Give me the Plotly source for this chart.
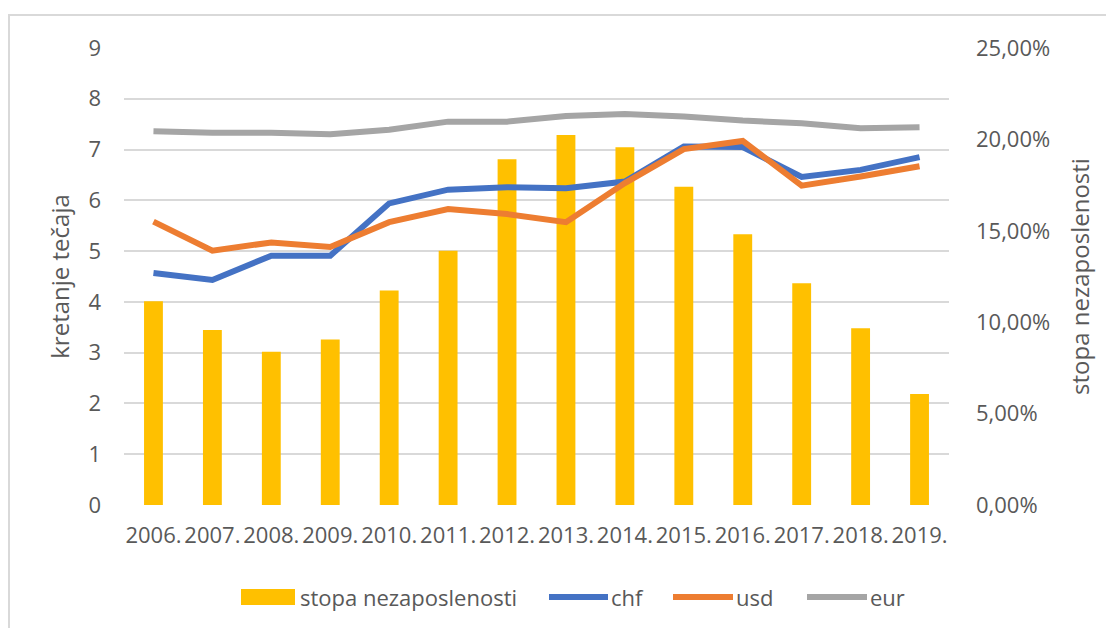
import plotly.graph_objects as go

# --- data ---
years = ["2006.", "2007.", "2008.", "2009.", "2010.", "2011.", "2012.",
         "2013.", "2014.", "2015.", "2016.", "2017.", "2018.", "2019."]
stopa = [0.1114, 0.0957, 0.0839, 0.0906, 0.1174, 0.1391, 0.1891,
         0.2024, 0.1957, 0.1741, 0.1481, 0.1213, 0.0967, 0.0607]
chf = [4.57, 4.43, 4.91, 4.91, 5.94, 6.21, 6.26, 6.24, 6.37, 7.06, 7.05, 6.46, 6.60, 6.85]
usd = [5.58, 5.01, 5.17, 5.08, 5.57, 5.83, 5.73, 5.57, 6.34, 7.01, 7.17, 6.29, 6.47, 6.67]
eur = [7.36, 7.33, 7.33, 7.30, 7.39, 7.55, 7.55, 7.66, 7.70, 7.65, 7.57, 7.52, 7.42, 7.44]
pct_ticks = [0, 0.05, 0.10, 0.15, 0.20, 0.25]

# --- colours ---
YELLOW = "#FFC000"
BLUE = "#4472C4"
ORANGE = "#ED7D31"
GREY = "#A5A5A5"
GRID = "#D9D9D9"
TEXT = "#595959"
FONT = "Open Sans, Noto Sans, sans-serif"

# page has an 8px body margin, so work in page pixels and shift
OFF = 8
W, H = 1106, 620
PL, PR, PT, PB = 124, 949, 48, 505   # plot area in page pixels
L, T = PL - OFF, PT - OFF
R = W - (PR - OFF)
B = H - (PB - OFF)


def px_x(px):
    return (px - PL) / (PR - PL)


def px_y(py):
    return (PB - py) / (PB - PT)


fig = go.Figure()

# bars on the primary axis (drawn under the lines)
fig.add_trace(go.Bar(x=years, y=stopa, name="stopa nezaposlenosti",
                     marker=dict(color=YELLOW, line=dict(width=0)),
                     width=0.32, yaxis="y"))

for name, vals, col in [("chf", chf, BLUE), ("usd", usd, ORANGE), ("eur", eur, GREY)]:
    fig.add_trace(go.Scatter(x=years, y=vals, name=name, mode="lines",
                             line=dict(color=col, width=6),
                             yaxis="y2"))

# --- custom legend ---
shapes = []
annotations = []
ly = px_y(597)
shapes.append(dict(type="rect", xref="paper", yref="paper",
                   x0=px_x(241), x1=px_x(295), y0=px_y(605), y1=px_y(589),
                   fillcolor=YELLOW, line=dict(width=0)))
annotations.append(dict(x=px_x(298), y=ly, xref="paper", yref="paper", text="stopa nezaposlenosti",
                        showarrow=False, xanchor="left", yanchor="middle",
                        font=dict(size=22, color=TEXT, family=FONT)))
for x0, x1, tx, name, col in [(549, 608, 609, "chf", BLUE),
                              (673, 733, 734, "usd", ORANGE),
                              (807, 867, 868, "eur", GREY)]:
    shapes.append(dict(type="line", xref="paper", yref="paper",
                       x0=px_x(x0), x1=px_x(x1), y0=ly, y1=ly,
                       line=dict(color=col, width=6)))
    annotations.append(dict(x=px_x(tx), y=ly, xref="paper", yref="paper", text=name,
                            showarrow=False, xanchor="left", yanchor="middle",
                            font=dict(size=22, color=TEXT, family=FONT)))

# chart border
shapes.append(dict(type="rect", xref="paper", yref="paper",
                   x0=px_x(9), x1=px_x(1130), y0=px_y(640), y1=px_y(15),
                   line=dict(color="#D9D9D9", width=2), layer="below"))

fig.update_layout(
    width=W, height=H,
    margin=dict(l=L, r=R, t=T, b=B),
    paper_bgcolor="white",
    plot_bgcolor="white",
    separators=",.",
    showlegend=False,
    font=dict(family=FONT, size=22, color=TEXT),
    xaxis=dict(type="category", showgrid=False, showline=False, ticks="",
               ticklabelstandoff=15, tickfont=dict(size=22, color=TEXT)),
    yaxis=dict(side="right", range=[0, 0.25], tickvals=pct_ticks, tickformat=".2%",
               showgrid=False, zeroline=False, showline=False, ticks="",
               ticklabelstandoff=26, tickfont=dict(size=22, color=TEXT),
               title=dict(text="stopa nezaposlenosti", standoff=22,
                          font=dict(size=24, color=TEXT, family=FONT))),
    yaxis2=dict(overlaying="y", side="left", range=[0, 9], dtick=1,
                showgrid=True, gridcolor=GRID, gridwidth=2,
                zeroline=False, showline=False, ticks="",
                ticklabelstandoff=22, tickfont=dict(size=22, color=TEXT),
                title=dict(text="kretanje tečaja", standoff=12,
                           font=dict(size=24, color=TEXT, family=FONT))),
    shapes=shapes,
    annotations=annotations,
)

fig.write_html("out.html")
